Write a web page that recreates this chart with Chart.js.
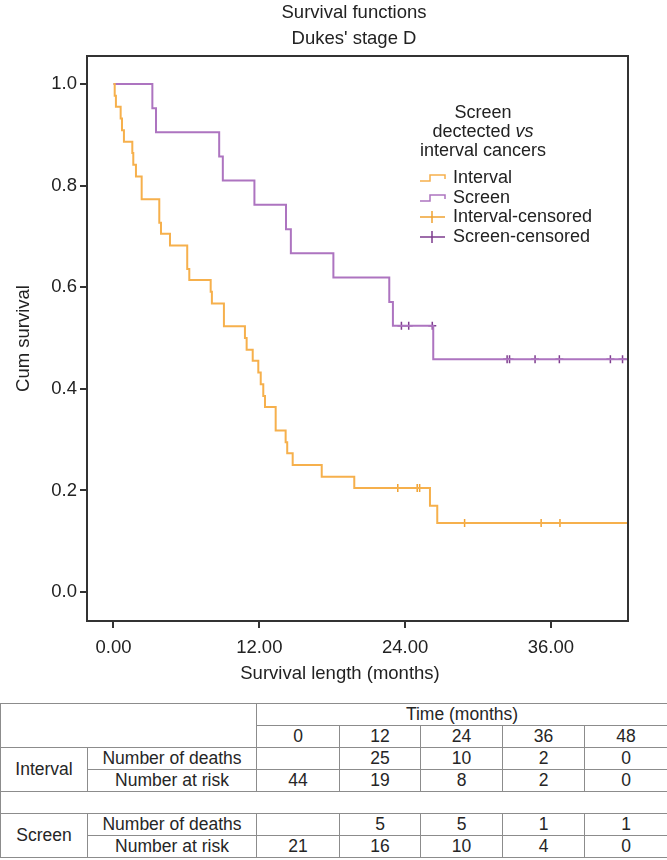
<!DOCTYPE html>
<html>
<head>
<meta charset="utf-8">
<script src="https://cdn.jsdelivr.net/npm/chart.js@4.4.1/dist/chart.umd.min.js"></script>
<style>
  body { margin: 0; background: #fff; font-family: "Liberation Sans", Arial, sans-serif; }
  #wrap { position: relative; width: 667px; height: 860px; }
  #chartBox { position: absolute; left: 0; top: 0; width: 667px; height: 690px; }
  #riskTable { position: absolute; left: 0; top: 703px; width: 667px; border-collapse: collapse;
               table-layout: fixed; font-size: 17.5px; color: #262626; }
  #riskTable td { border: 1px solid #8c8c8c; text-align: center; padding: 0; height: 21px; line-height: 21px; }
</style>
</head>
<body>
<div id="wrap">
  <div id="chartBox"><canvas id="kmChart"></canvas></div>
  <table id="riskTable"></table>
</div>
<script>
// survival curves (months, cumulative survival)
const intervalTimes = [0, 0.1, 0.2, 0.59, 0.7, 0.86, 1.55, 1.63, 1.85, 2.32, 3.77, 3.91, 4.65, 6.07, 6.24,
                       8.0, 8.1, 9.09, 10.82, 10.96, 11.46, 11.92, 12.12, 12.33, 12.47, 13.35, 14.17, 14.3,
                       14.75, 17.14, 19.82, 26.05, 26.65, 42.3];
const intervalSurv  = [1.0, 0.977, 0.955, 0.932, 0.909, 0.886, 0.864, 0.841, 0.818, 0.773, 0.727, 0.705, 0.682,
                       0.636, 0.614, 0.591, 0.568, 0.523, 0.500, 0.477, 0.455, 0.432, 0.409, 0.386, 0.364,
                       0.318, 0.295, 0.273, 0.250, 0.227, 0.205, 0.170, 0.136, 0.136];
const intervalCensTimes = [23.4, 25.0, 25.2, 28.9, 35.2, 36.75];
const intervalCensSurv  = [0.205, 0.205, 0.205, 0.136, 0.136, 0.136];

const screenTimes = [0, 3.2, 3.5, 8.7, 9.0, 11.6, 14.2, 14.6, 18.1, 22.7, 23.0, 26.32, 42.3];
const screenSurv  = [1.0, 0.952, 0.905, 0.857, 0.810, 0.762, 0.714, 0.667, 0.619, 0.571, 0.524, 0.458, 0.458];
const screenCensTimes = [23.7, 24.3, 26.24, 32.4, 32.6, 34.7, 36.7, 40.9, 41.9];
const screenCensSurv  = [0.524, 0.524, 0.524, 0.458, 0.458, 0.458, 0.458, 0.458, 0.458];

const xTicks = [0, 12, 24, 36];
const yTicks = [0, 0.2, 0.4, 0.6, 0.8, 1.0];

// table under the chart
const timeCols = [0, 12, 24, 36, 48];
const intervalDeaths = ["", 25, 10, 2, 0];
const intervalAtRisk = [44, 19, 8, 2, 0];
const screenDeaths = ["", 5, 5, 1, 1];
const screenAtRisk = [21, 16, 10, 4, 0];

const orange = "#f6b04c";
const orangeDark = "#f0a232";
const purple = "#ad74c0";
const purpleDark = "#7e3d8e";
const FONT = "'Liberation Sans', Arial, sans-serif";

const pts = (xs, ys) => xs.map((x, i) => ({ x: x, y: ys[i] }));

// titles, frame and the legend block are drawn by hand
const decor = {
    id: "decor",
    afterDraw(chart) {
        const c = chart.ctx;
        const a = chart.chartArea;
        c.save();
        c.strokeStyle = "#333";
        c.lineWidth = 2;
        c.strokeRect(a.left, a.top, a.right - a.left, a.bottom - a.top);

        c.fillStyle = "#222";
        c.textAlign = "center";
        c.textBaseline = "middle";
        c.font = "18.5px " + FONT;
        c.fillText("Survival functions", 354, 13);
        c.fillText("Dukes' stage D", 354, 39);
        // x axis title sits a little left of the plot centre in the original
        c.fillText("Survival length (months)", 340, 674);

        // legend
        const cx = 483;
        c.font = "18px " + FONT;
        c.fillText("Screen", cx, 113);
        const w1 = c.measureText("dectected ").width;
        c.font = "italic 18px " + FONT;
        const w2 = c.measureText("vs").width;
        c.textAlign = "left";
        c.font = "18px " + FONT;
        c.fillText("dectected ", cx - (w1 + w2) / 2, 132);
        c.font = "italic 18px " + FONT;
        c.fillText("vs", cx - (w1 + w2) / 2 + w1, 132);
        c.textAlign = "center";
        c.font = "18px " + FONT;
        c.fillText("interval cancers", cx, 151);

        const items = [
            { label: "Interval", color: orange, kind: "step", y: 178 },
            { label: "Screen", color: purple, kind: "step", y: 198 },
            { label: "Interval-censored", color: orangeDark, kind: "cross", y: 217 },
            { label: "Screen-censored", color: purpleDark, kind: "cross", y: 237 }
        ];
        items.forEach(it => {
            c.strokeStyle = it.color;
            c.lineWidth = 1.5;
            c.beginPath();
            if (it.kind === "step") {
                c.moveTo(420, it.y + 3);
                c.lineTo(430, it.y + 3);
                c.lineTo(430, it.y - 3);
                c.lineTo(445, it.y - 3);
                c.lineTo(445, it.y + 1);
            } else {
                c.moveTo(420, it.y);
                c.lineTo(445, it.y);
                c.moveTo(432, it.y - 6);
                c.lineTo(432, it.y + 6);
            }
            c.stroke();
            c.fillStyle = "#222";
            c.textAlign = "left";
            c.fillText(it.label, 453, it.y);
        });
        c.restore();
    }
};

new Chart(document.getElementById("kmChart"), {
    type: "line",
    data: {
        datasets: [
            { label: "Interval", data: pts(intervalTimes, intervalSurv), stepped: "before",
              borderColor: orange, borderWidth: 2, pointRadius: 0, fill: false },
            { label: "Screen", data: pts(screenTimes, screenSurv), stepped: "before",
              borderColor: purple, borderWidth: 2, pointRadius: 0, fill: false },
            { label: "Interval-censored", data: pts(intervalCensTimes, intervalCensSurv), showLine: false,
              pointStyle: "cross", pointRadius: 4, borderColor: orangeDark, borderWidth: 1.5 },
            { label: "Screen-censored", data: pts(screenCensTimes, screenCensSurv), showLine: false,
              pointStyle: "cross", pointRadius: 4, borderColor: purpleDark, borderWidth: 1.5 }
        ]
    },
    options: {
        responsive: true,
        maintainAspectRatio: false,
        animation: false,
        layout: { padding: { top: 56, right: 39, left: 0, bottom: 0 } },
        plugins: { legend: { display: false }, tooltip: { enabled: false } },
        scales: {
            x: {
                type: "linear", min: -2.18, max: 42.35,
                afterBuildTicks: s => { s.ticks = xTicks.map(v => ({ value: v })); },
                afterFit: s => { s.height = 69; },
                ticks: { color: "#222", font: { family: FONT, size: 18.5 }, padding: 9,
                         callback: v => Number(v).toFixed(2) },
                grid: { drawOnChartArea: false, drawTicks: true, tickLength: 7, color: "#333", lineWidth: 2 },
                border: { display: false }
            },
            y: {
                min: -0.057, max: 1.055,
                afterBuildTicks: s => { s.ticks = yTicks.map(v => ({ value: v })); },
                afterFit: s => { s.width = 87; },
                ticks: { color: "#222", font: { family: FONT, size: 18.5 }, padding: 3,
                         callback: v => Number(v).toFixed(1) },
                grid: { drawOnChartArea: false, drawTicks: true, tickLength: 7, color: "#333", lineWidth: 2 },
                border: { display: false },
                title: { display: true, text: "Cum survival", color: "#222",
                         font: { family: FONT, size: 18.5 }, padding: { top: 13, bottom: 0 } }
            }
        }
    },
    plugins: [decor]
});

// build the numbers table
const tbl = document.getElementById("riskTable");
const colW = [87, 169, 83, 81, 82, 82, 83];
let html = "<colgroup>" + colW.map(w => `<col style="width:${w}px">`).join("") + "</colgroup>";
html += `<tr><td colspan="2" rowspan="2"></td><td colspan="5">Time (months)</td></tr>`;
html += "<tr>" + timeCols.map(t => `<td>${t}</td>`).join("") + "</tr>";
const group = (name, deaths, risk) =>
    `<tr><td rowspan="2">${name}</td><td>Number of deaths</td>` + deaths.map(v => `<td>${v}</td>`).join("") + "</tr>" +
    `<tr><td>Number at risk</td>` + risk.map(v => `<td>${v}</td>`).join("") + "</tr>";
html += group("Interval", intervalDeaths, intervalAtRisk);
html += `<tr><td colspan="7"></td></tr>`;
html += group("Screen", screenDeaths, screenAtRisk);
tbl.innerHTML = html;
</script>
</body>
</html>
